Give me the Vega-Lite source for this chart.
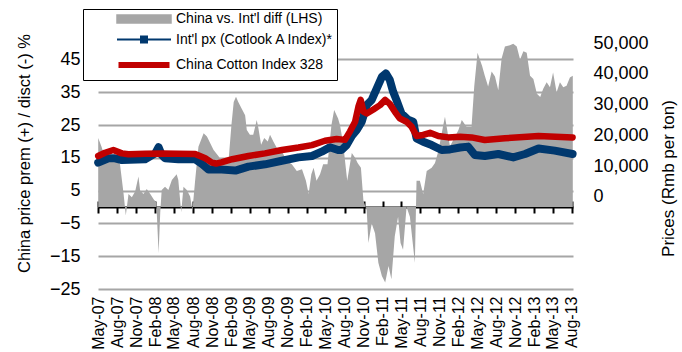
{
  "$schema": "https://vega.github.io/schema/vega-lite/v6.json",
  "width": 475,
  "height": 246,
  "autosize": {"type": "none"},
  "padding": {"left": 98, "top": 43, "right": 109, "bottom": 63},
  "background": "white",
  "config": {
    "view": {"stroke": null},
    "font": "Liberation Sans",
    "axis": {"labelColor": "black", "titleColor": "black", "titleFontWeight": "normal", "labelFont": "Liberation Sans", "titleFont": "Liberation Sans"}
  },
  "datasets": {
    "diff": [
      {"date": "2007-05-02", "value": 21}, {"date": "2007-05-18", "value": 18.4}, {"date": "2007-06-04", "value": 15},
      {"date": "2007-06-28", "value": 14}, {"date": "2007-07-22", "value": 15}, {"date": "2007-08-15", "value": 13},
      {"date": "2007-09-01", "value": 4.2}, {"date": "2007-09-12", "value": -2.6}, {"date": "2007-09-25", "value": 4},
      {"date": "2007-10-11", "value": 3}, {"date": "2007-10-27", "value": 4.7}, {"date": "2007-11-12", "value": 9.3},
      {"date": "2007-11-20", "value": 5}, {"date": "2007-12-06", "value": 4}, {"date": "2007-12-22", "value": 5.5},
      {"date": "2008-01-08", "value": 4}, {"date": "2008-01-24", "value": 2.4}, {"date": "2008-02-06", "value": 1.4},
      {"date": "2008-02-17", "value": -14.1}, {"date": "2008-02-25", "value": -1.6}, {"date": "2008-03-03", "value": 5.2},
      {"date": "2008-03-19", "value": 6.2}, {"date": "2008-04-04", "value": 5.2}, {"date": "2008-04-21", "value": 8.2},
      {"date": "2008-05-14", "value": 10}, {"date": "2008-05-22", "value": 8.2}, {"date": "2008-06-05", "value": -1.6},
      {"date": "2008-06-16", "value": 6.2}, {"date": "2008-07-02", "value": 5.2}, {"date": "2008-07-18", "value": 3.2},
      {"date": "2008-07-29", "value": -1.1}, {"date": "2008-08-11", "value": 8}, {"date": "2008-08-27", "value": 18.4},
      {"date": "2008-09-21", "value": 22.5}, {"date": "2008-10-07", "value": 21.5}, {"date": "2008-10-23", "value": 19.4},
      {"date": "2008-11-08", "value": 17.4}, {"date": "2008-12-02", "value": 15.5}, {"date": "2008-12-26", "value": 13},
      {"date": "2009-01-19", "value": 14}, {"date": "2009-02-02", "value": 25}, {"date": "2009-02-13", "value": 32},
      {"date": "2009-02-24", "value": 33.6}, {"date": "2009-03-07", "value": 32}, {"date": "2009-03-23", "value": 30},
      {"date": "2009-04-09", "value": 28}, {"date": "2009-04-17", "value": 23.5}, {"date": "2009-05-02", "value": 22},
      {"date": "2009-05-18", "value": 22}, {"date": "2009-06-04", "value": 26.5}, {"date": "2009-06-12", "value": 24},
      {"date": "2009-06-25", "value": 19}, {"date": "2009-07-10", "value": 21}, {"date": "2009-07-27", "value": 20},
      {"date": "2009-08-07", "value": 22}, {"date": "2009-08-23", "value": 20}, {"date": "2009-09-09", "value": 18},
      {"date": "2009-10-03", "value": 17}, {"date": "2009-10-27", "value": 14}, {"date": "2009-11-20", "value": 13},
      {"date": "2009-12-14", "value": 11}, {"date": "2010-01-08", "value": 11.5}, {"date": "2010-01-27", "value": 8},
      {"date": "2010-02-09", "value": 4}, {"date": "2010-02-22", "value": 10}, {"date": "2010-03-05", "value": 12},
      {"date": "2010-03-19", "value": 8}, {"date": "2010-04-05", "value": 10}, {"date": "2010-04-20", "value": 13},
      {"date": "2010-05-11", "value": 13}, {"date": "2010-05-30", "value": 25}, {"date": "2010-06-12", "value": 29.6},
      {"date": "2010-07-01", "value": 27}, {"date": "2010-07-10", "value": 25}, {"date": "2010-07-25", "value": 19.5},
      {"date": "2010-08-14", "value": 8}, {"date": "2010-09-05", "value": 16.5}, {"date": "2010-09-21", "value": 15},
      {"date": "2010-10-03", "value": 13.4}, {"date": "2010-10-19", "value": 12}, {"date": "2010-10-31", "value": 2},
      {"date": "2010-11-16", "value": -1}, {"date": "2010-11-24", "value": -11}, {"date": "2010-12-10", "value": -5},
      {"date": "2010-12-26", "value": -8}, {"date": "2011-01-11", "value": -17}, {"date": "2011-01-28", "value": -21},
      {"date": "2011-02-13", "value": -23}, {"date": "2011-03-01", "value": -18}, {"date": "2011-03-15", "value": -22},
      {"date": "2011-03-31", "value": -9}, {"date": "2011-04-16", "value": -3}, {"date": "2011-04-28", "value": -11},
      {"date": "2011-05-10", "value": -13}, {"date": "2011-05-27", "value": 0}, {"date": "2011-06-12", "value": -3},
      {"date": "2011-07-06", "value": -17}, {"date": "2011-07-14", "value": 8}, {"date": "2011-07-30", "value": 8},
      {"date": "2011-08-15", "value": 4}, {"date": "2011-09-01", "value": 11}, {"date": "2011-09-25", "value": 12},
      {"date": "2011-10-11", "value": 13.4}, {"date": "2011-10-27", "value": 17}, {"date": "2011-11-20", "value": 25},
      {"date": "2011-11-28", "value": 27.5}, {"date": "2011-12-22", "value": 18.5}, {"date": "2012-01-16", "value": 21.5},
      {"date": "2012-02-01", "value": 23.5}, {"date": "2012-02-17", "value": 26.5}, {"date": "2012-03-11", "value": 24.5},
      {"date": "2012-04-04", "value": 24.5}, {"date": "2012-04-17", "value": 36.7}, {"date": "2012-05-03", "value": 47},
      {"date": "2012-05-14", "value": 45}, {"date": "2012-05-25", "value": 43}, {"date": "2012-06-07", "value": 40},
      {"date": "2012-06-23", "value": 36.7}, {"date": "2012-07-10", "value": 41.3}, {"date": "2012-07-26", "value": 39.8},
      {"date": "2012-08-11", "value": 35.6}, {"date": "2012-08-27", "value": 45.3}, {"date": "2012-09-12", "value": 48.9},
      {"date": "2012-10-06", "value": 49.3}, {"date": "2012-10-22", "value": 49.8}, {"date": "2012-11-08", "value": 48.9},
      {"date": "2012-11-24", "value": 45}, {"date": "2012-12-10", "value": 47.5}, {"date": "2012-12-26", "value": 47},
      {"date": "2013-01-11", "value": 40}, {"date": "2013-01-27", "value": 39}, {"date": "2013-02-13", "value": 34.5},
      {"date": "2013-03-01", "value": 33.5}, {"date": "2013-03-15", "value": 36}, {"date": "2013-04-01", "value": 38},
      {"date": "2013-04-17", "value": 36.5}, {"date": "2013-05-02", "value": 41}, {"date": "2013-05-19", "value": 35},
      {"date": "2013-06-04", "value": 38}, {"date": "2013-06-20", "value": 36.5}, {"date": "2013-07-06", "value": 37},
      {"date": "2013-07-22", "value": 39.5}, {"date": "2013-08-05", "value": 40}
    ],
    "cotlook": [
      {"date": "2007-05-02", "value": 11100}, {"date": "2007-06-20", "value": 12500}, {"date": "2007-07-22", "value": 12500},
      {"date": "2007-08-24", "value": 11950}, {"date": "2007-12-14", "value": 12200}, {"date": "2008-02-01", "value": 14100},
      {"date": "2008-02-17", "value": 16100}, {"date": "2008-03-03", "value": 13600}, {"date": "2008-03-19", "value": 12500},
      {"date": "2008-05-22", "value": 12200}, {"date": "2008-08-11", "value": 12200}, {"date": "2008-09-13", "value": 10650},
      {"date": "2008-10-14", "value": 8900}, {"date": "2008-12-02", "value": 8900}, {"date": "2009-02-21", "value": 8500},
      {"date": "2009-04-25", "value": 9800}, {"date": "2009-07-14", "value": 10550}, {"date": "2009-10-03", "value": 11700},
      {"date": "2009-12-22", "value": 12800}, {"date": "2010-02-25", "value": 13250}, {"date": "2010-04-13", "value": 14650},
      {"date": "2010-05-22", "value": 16100}, {"date": "2010-07-01", "value": 15200}, {"date": "2010-07-18", "value": 15200},
      {"date": "2010-08-11", "value": 16800}, {"date": "2010-09-05", "value": 19750}, {"date": "2010-09-29", "value": 21700},
      {"date": "2010-10-23", "value": 24400}, {"date": "2010-11-16", "value": 29800}, {"date": "2010-12-10", "value": 31500},
      {"date": "2011-01-04", "value": 35300}, {"date": "2011-01-28", "value": 39000}, {"date": "2011-02-16", "value": 40100},
      {"date": "2011-03-07", "value": 38000}, {"date": "2011-03-23", "value": 34200}, {"date": "2011-04-08", "value": 31500},
      {"date": "2011-05-02", "value": 27100}, {"date": "2011-06-04", "value": 25000}, {"date": "2011-06-28", "value": 24400},
      {"date": "2011-07-14", "value": 19000}, {"date": "2011-08-15", "value": 17900}, {"date": "2011-09-25", "value": 16800},
      {"date": "2011-11-12", "value": 15200}, {"date": "2011-12-22", "value": 15400}, {"date": "2012-02-09", "value": 16000},
      {"date": "2012-03-19", "value": 16300}, {"date": "2012-04-20", "value": 13600}, {"date": "2012-06-07", "value": 13250},
      {"date": "2012-08-11", "value": 13900}, {"date": "2012-10-22", "value": 12800}, {"date": "2012-12-18", "value": 13900},
      {"date": "2013-02-21", "value": 15700}, {"date": "2013-05-10", "value": 15000}, {"date": "2013-08-04", "value": 13900}
    ],
    "cc328": [
      {"date": "2007-05-02", "value": 13250}, {"date": "2007-06-04", "value": 14300}, {"date": "2007-07-14", "value": 15200},
      {"date": "2007-08-24", "value": 14100}, {"date": "2007-09-25", "value": 13800}, {"date": "2007-12-14", "value": 14000},
      {"date": "2008-03-03", "value": 14100}, {"date": "2008-05-21", "value": 14000}, {"date": "2008-08-11", "value": 13900},
      {"date": "2008-09-29", "value": 12500}, {"date": "2008-10-31", "value": 11100}, {"date": "2008-11-20", "value": 10800},
      {"date": "2008-12-15", "value": 11200}, {"date": "2009-02-06", "value": 12200}, {"date": "2009-04-25", "value": 13250},
      {"date": "2009-07-14", "value": 14100}, {"date": "2009-10-03", "value": 15200}, {"date": "2009-12-22", "value": 16000},
      {"date": "2010-02-25", "value": 16800}, {"date": "2010-04-29", "value": 18200}, {"date": "2010-06-24", "value": 18800},
      {"date": "2010-08-03", "value": 18500}, {"date": "2010-08-27", "value": 21200}, {"date": "2010-09-21", "value": 24400},
      {"date": "2010-10-07", "value": 29300}, {"date": "2010-10-18", "value": 31500}, {"date": "2010-10-31", "value": 27700},
      {"date": "2010-11-16", "value": 27100}, {"date": "2010-12-18", "value": 28400}, {"date": "2011-01-19", "value": 29800},
      {"date": "2011-02-13", "value": 31500}, {"date": "2011-03-07", "value": 30200}, {"date": "2011-03-31", "value": 27700},
      {"date": "2011-04-24", "value": 25500}, {"date": "2011-05-27", "value": 24400}, {"date": "2011-06-20", "value": 22800},
      {"date": "2011-07-14", "value": 19750}, {"date": "2011-08-15", "value": 20100}, {"date": "2011-09-17", "value": 20800},
      {"date": "2011-10-27", "value": 19750}, {"date": "2011-12-14", "value": 19300}, {"date": "2012-02-09", "value": 19500},
      {"date": "2012-04-04", "value": 19300}, {"date": "2012-06-07", "value": 18450}, {"date": "2012-09-12", "value": 19000},
      {"date": "2013-02-21", "value": 19750}, {"date": "2013-08-04", "value": 19300}
    ]
  },
  "layer": [
    {
      "data": {"name": "diff"},
      "mark": {"type": "area", "opacity": 1, "interpolate": "linear"},
      "encoding": {
        "x": {
          "field": "date", "type": "temporal",
          "scale": {"type": "utc", "domain": [{"year": 2007, "month": 5, "date": 1, "utc": true}, {"year": 2013, "month": 8, "date": 6, "utc": true}]},
          "axis": {
            "orient": "bottom", "offset": -82, "title": null, "grid": false,
            "domain": true, "domainColor": "black", "domainWidth": 2,
            "ticks": true, "tickColor": "black", "tickWidth": 2, "tickSize": 6,
            "labelAngle": -90, "labelPadding": 83, "labelFontSize": 16, "labelOverlap": false,
            "labelExpr": "utcFormat(datum.value, '%b-%y')",
            "values": [
              {"year": 2007, "month": 5, "date": 1, "utc": true}, {"year": 2007, "month": 8, "date": 1, "utc": true}, {"year": 2007, "month": 11, "date": 1, "utc": true},
              {"year": 2008, "month": 2, "date": 1, "utc": true}, {"year": 2008, "month": 5, "date": 1, "utc": true}, {"year": 2008, "month": 8, "date": 1, "utc": true}, {"year": 2008, "month": 11, "date": 1, "utc": true},
              {"year": 2009, "month": 2, "date": 1, "utc": true}, {"year": 2009, "month": 5, "date": 1, "utc": true}, {"year": 2009, "month": 8, "date": 1, "utc": true}, {"year": 2009, "month": 11, "date": 1, "utc": true},
              {"year": 2010, "month": 2, "date": 1, "utc": true}, {"year": 2010, "month": 5, "date": 1, "utc": true}, {"year": 2010, "month": 8, "date": 1, "utc": true}, {"year": 2010, "month": 11, "date": 1, "utc": true},
              {"year": 2011, "month": 2, "date": 1, "utc": true}, {"year": 2011, "month": 5, "date": 1, "utc": true}, {"year": 2011, "month": 8, "date": 1, "utc": true}, {"year": 2011, "month": 11, "date": 1, "utc": true},
              {"year": 2012, "month": 2, "date": 1, "utc": true}, {"year": 2012, "month": 5, "date": 1, "utc": true}, {"year": 2012, "month": 8, "date": 1, "utc": true}, {"year": 2012, "month": 11, "date": 1, "utc": true},
              {"year": 2013, "month": 2, "date": 1, "utc": true}, {"year": 2013, "month": 5, "date": 1, "utc": true}, {"year": 2013, "month": 8, "date": 1, "utc": true}
            ]
          }
        },
        "y": {
          "field": "value", "type": "quantitative",
          "scale": {"domain": [-25, 50], "nice": false, "zero": false},
          "axis": {
            "orient": "left", "values": [-25, -15, -5, 5, 15, 25, 35, 45],
            "domain": false, "ticks": false, "tickSize": 0,
            "grid": true, "gridColor": "#a6a6a6", "gridWidth": 2,
            "labelFontSize": 18, "labelPadding": 18,
            "title": "China price prem (+) / disct (-) %", "titleFontSize": 16.5,
            "titleAngle": -90, "titleBaseline": "middle", "titleAlign": "center",
            "titleX": -74, "titleY": 110
          }
        },
        "color": {
          "datum": "China vs. Int'l diff (LHS)", "type": "nominal",
          "scale": {
            "domain": ["China vs. Int'l diff (LHS)", "Int'l px (Cotlook A Index)*", "China Cotton Index 328"],
            "range": ["#a6a6a6", "#00386e", "#c00000"]
          },
          "legend": {
            "orient": "none", "legendX": -15, "legendY": -34, "title": null,
            "fillColor": "white", "strokeColor": "black", "padding": 3,
            "labelFont": "Liberation Sans", "labelFontSize": 14, "labelColor": "black", "labelLimit": 0,
            "symbolSize": 100, "symbolOffset": 51, "labelOffset": 25, "rowPadding": 6.5,
            "symbolOpacity": 1,
            "symbolType": {"expr": "datum.index === 0 ? 'M-5.4,-0.8H5.4V0.8H-5.4Z' : datum.index === 1 ? 'M-5.4,0H5.4M-0.6,-0.6H0.6V0.6H-0.6Z' : 'M-5.1,0H5.1'"},
            "symbolStrokeColor": {"expr": "datum.index === 0 ? '#b5b5b5' : datum.index === 1 ? '#00386e' : '#c00000'"},
            "symbolStrokeWidth": {"expr": "datum.index === 0 ? 1.5 : datum.index === 1 ? 2 : 6"},
            "encode": {
              "legend": {"strokeWidth": {"value": 2}}
            }
          }
        }
      }
    },
    {
      "encoding": {
        "x": {
          "field": "date", "type": "temporal",
          "axis": {
            "orient": "top", "offset": -164, "title": null, "grid": false,
            "domain": false, "labels": false,
            "ticks": true, "tickColor": "black", "tickWidth": 2, "tickSize": 6,
            "values": [
              {"year": 2007, "month": 5, "date": 1, "utc": true}, {"year": 2007, "month": 8, "date": 1, "utc": true}, {"year": 2007, "month": 11, "date": 1, "utc": true},
              {"year": 2008, "month": 2, "date": 1, "utc": true}, {"year": 2008, "month": 5, "date": 1, "utc": true}, {"year": 2008, "month": 8, "date": 1, "utc": true}, {"year": 2008, "month": 11, "date": 1, "utc": true},
              {"year": 2009, "month": 2, "date": 1, "utc": true}, {"year": 2009, "month": 5, "date": 1, "utc": true}, {"year": 2009, "month": 8, "date": 1, "utc": true}, {"year": 2009, "month": 11, "date": 1, "utc": true},
              {"year": 2010, "month": 2, "date": 1, "utc": true}, {"year": 2010, "month": 5, "date": 1, "utc": true}, {"year": 2010, "month": 8, "date": 1, "utc": true}, {"year": 2010, "month": 11, "date": 1, "utc": true},
              {"year": 2011, "month": 2, "date": 1, "utc": true}, {"year": 2011, "month": 5, "date": 1, "utc": true}, {"year": 2011, "month": 8, "date": 1, "utc": true}, {"year": 2011, "month": 11, "date": 1, "utc": true},
              {"year": 2012, "month": 2, "date": 1, "utc": true}, {"year": 2012, "month": 5, "date": 1, "utc": true}, {"year": 2012, "month": 8, "date": 1, "utc": true}, {"year": 2012, "month": 11, "date": 1, "utc": true},
              {"year": 2013, "month": 2, "date": 1, "utc": true}, {"year": 2013, "month": 5, "date": 1, "utc": true}, {"year": 2013, "month": 8, "date": 1, "utc": true}
            ]
          }
        },
        "y": {
          "field": "value", "type": "quantitative",
          "scale": {"domain": [-30000, 50000], "nice": false, "zero": false},
          "axis": {
            "orient": "right", "values": [0, 10000, 20000, 30000, 40000, 50000], "format": ",d",
            "domain": false, "ticks": false, "tickSize": 0, "grid": false,
            "labelFontSize": 18, "labelPadding": 20,
            "title": "Prices (Rmb per ton)", "titleFontSize": 17,
            "titleAngle": -90, "titleBaseline": "middle", "titleAlign": "center",
            "titleX": 95, "titleY": 135
          }
        }
      },
      "layer": [
        {
          "data": {"name": "cotlook"},
          "mark": {"type": "line", "strokeWidth": 8, "strokeJoin": "round", "strokeCap": "round", "opacity": 1},
          "encoding": {"color": {"datum": "Int'l px (Cotlook A Index)*", "type": "nominal", "legend": null}}
        },
        {
          "data": {"name": "cc328"},
          "mark": {"type": "line", "strokeWidth": 6.5, "strokeJoin": "round", "strokeCap": "round", "opacity": 1},
          "encoding": {"color": {"datum": "China Cotton Index 328", "type": "nominal", "legend": null}}
        }
      ]
    }
  ],
  "resolve": {"scale": {"y": "independent"}, "axis": {"x": "independent"}}
}
